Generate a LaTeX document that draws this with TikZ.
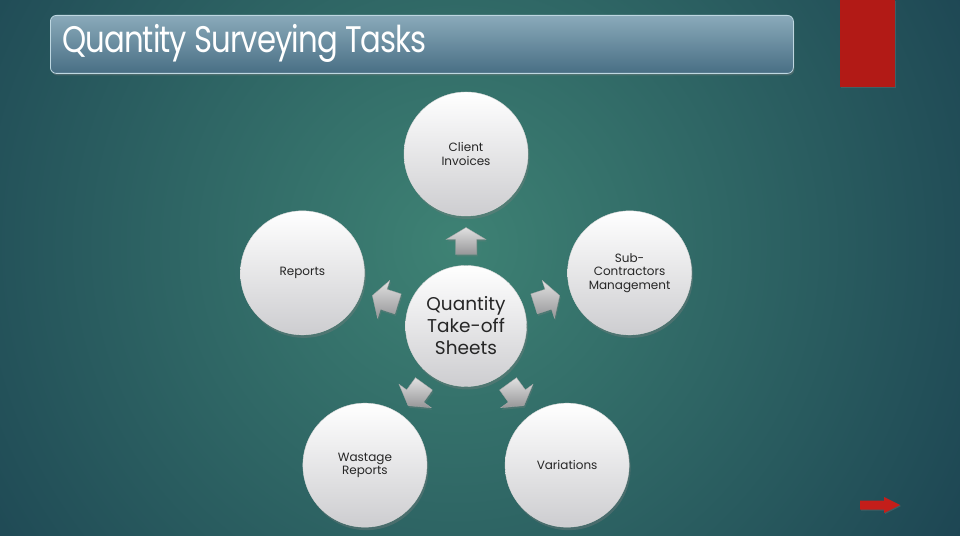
\documentclass[tikz,border=0pt]{standalone}
\usepackage{fontspec}
\setmainfont{Poppins}
\usetikzlibrary{shadows}
\definecolor{bgin}{RGB}{62,130,116}
\definecolor{bgout}{RGB}{26,64,80}
\definecolor{titletop}{RGB}{138,170,186}
\definecolor{titlebot}{RGB}{72,110,132}
\definecolor{titleedge}{RGB}{190,215,225}
\definecolor{slidered}{RGB}{178,26,22}
\definecolor{arrowred}{RGB}{196,30,26}
\definecolor{circlelow}{RGB}{205,205,208}
\definecolor{blockhi}{RGB}{225,225,225}
\definecolor{blocklo}{RGB}{150,150,152}
\tikzset{
  bubble/.style={circle, minimum size=124pt, inner sep=0pt, align=center,
    top color=white, bottom color=circlelow, draw=white!85!black, line width=0.4pt,
    drop shadow={opacity=0.35, shadow xshift=1.5pt, shadow yshift=-3pt},
    font=\fontsize{12}{13.5}\selectfont, text=black!85},
  hub/.style={bubble, minimum size=121pt, font=\fontsize{18.5}{22}\selectfont},
  blockarrow/.pic={
    \path[top color=blockhi, bottom color=blocklo, draw=black!35, line width=0.3pt,
      drop shadow={opacity=0.3, shadow xshift=1pt, shadow yshift=-2pt}]
      (-13.5,-10.5) -- (1.5,-10.5) -- (1.5,-20) -- (13.5,0) -- (1.5,20)
      -- (1.5,10.5) -- (-13.5,10.5) -- cycle;
  }
}
\begin{document}
\begin{tikzpicture}[x=1pt,y=1pt]
  % slide background with a soft radial glow
  \useasboundingbox (0,0) rectangle (960,535);
  \begin{scope}
    \clip (0,0) rectangle (960,535);
    \fill[bgout] (0,0) rectangle (960,535);
    \shade[inner color=bgin, outer color=bgout] (455,290) circle (640);
  \end{scope}

  % title banner
  \node (title) [rounded corners=6pt, top color=titletop, bottom color=titlebot,
    draw=titleedge, line width=0.8pt, minimum width=743pt, minimum height=58pt,
    anchor=north west, inner sep=0pt,
    drop shadow={opacity=0.4, shadow xshift=1pt, shadow yshift=-2pt}] at (50,520) {};
  \node (titletext) [anchor=west, text=white, inner sep=0pt,
    font=\fontsize{37}{40}\selectfont\addfontfeatures{LetterSpace=-3}]
    at ([xshift=12pt,yshift=1pt]title.west) {\scalebox{0.83}[1]{Quantity Surveying Tasks}};

  % red tab at the top right
  \fill[slidered, drop shadow={opacity=0.3, shadow xshift=1pt, shadow yshift=-1.5pt}]
    (840,535) rectangle (895,448);

  % central topic
  \node (hub) [hub] at (466,209) {Quantity\\Take-off\\Sheets};

  % surrounding tasks on a regular pentagon
  \node (invoices) [bubble] at ([shift={(90:172)}]hub.center) {Client\\Invoices};
  \node (subs) [bubble] at ([shift={(18:172)}]hub.center) {Sub-\\Contractors\\Management};
  \node (reports) [bubble] at ([shift={(162:172)}]hub.center) {Reports};
  \node (wastage) [bubble] at ([shift={(234:172)}]hub.center) {Wastage\\Reports};
  \node (variations) [bubble] at ([shift={(306:172)}]hub.center) {Variations};

  % block arrows from the hub toward each task
  \foreach \ang in {90,18,162,234,306}
    \pic[rotate=\ang] at ([shift={(\ang:85)}]hub.center) {blockarrow};

  % next-slide arrow
  \coordinate (nextarrow) at (880,30);
  \fill[arrowred, drop shadow={opacity=0.3, shadow xshift=1pt, shadow yshift=-1pt}]
    ([shift={(-20,-4.5)}]nextarrow) -- ([shift={(4,-4.5)}]nextarrow)
    -- ([shift={(4,-8)}]nextarrow) -- ([shift={(20,0)}]nextarrow)
    -- ([shift={(4,8)}]nextarrow) -- ([shift={(4,4.5)}]nextarrow)
    -- ([shift={(-20,4.5)}]nextarrow) -- cycle;
\end{tikzpicture}
\end{document}
